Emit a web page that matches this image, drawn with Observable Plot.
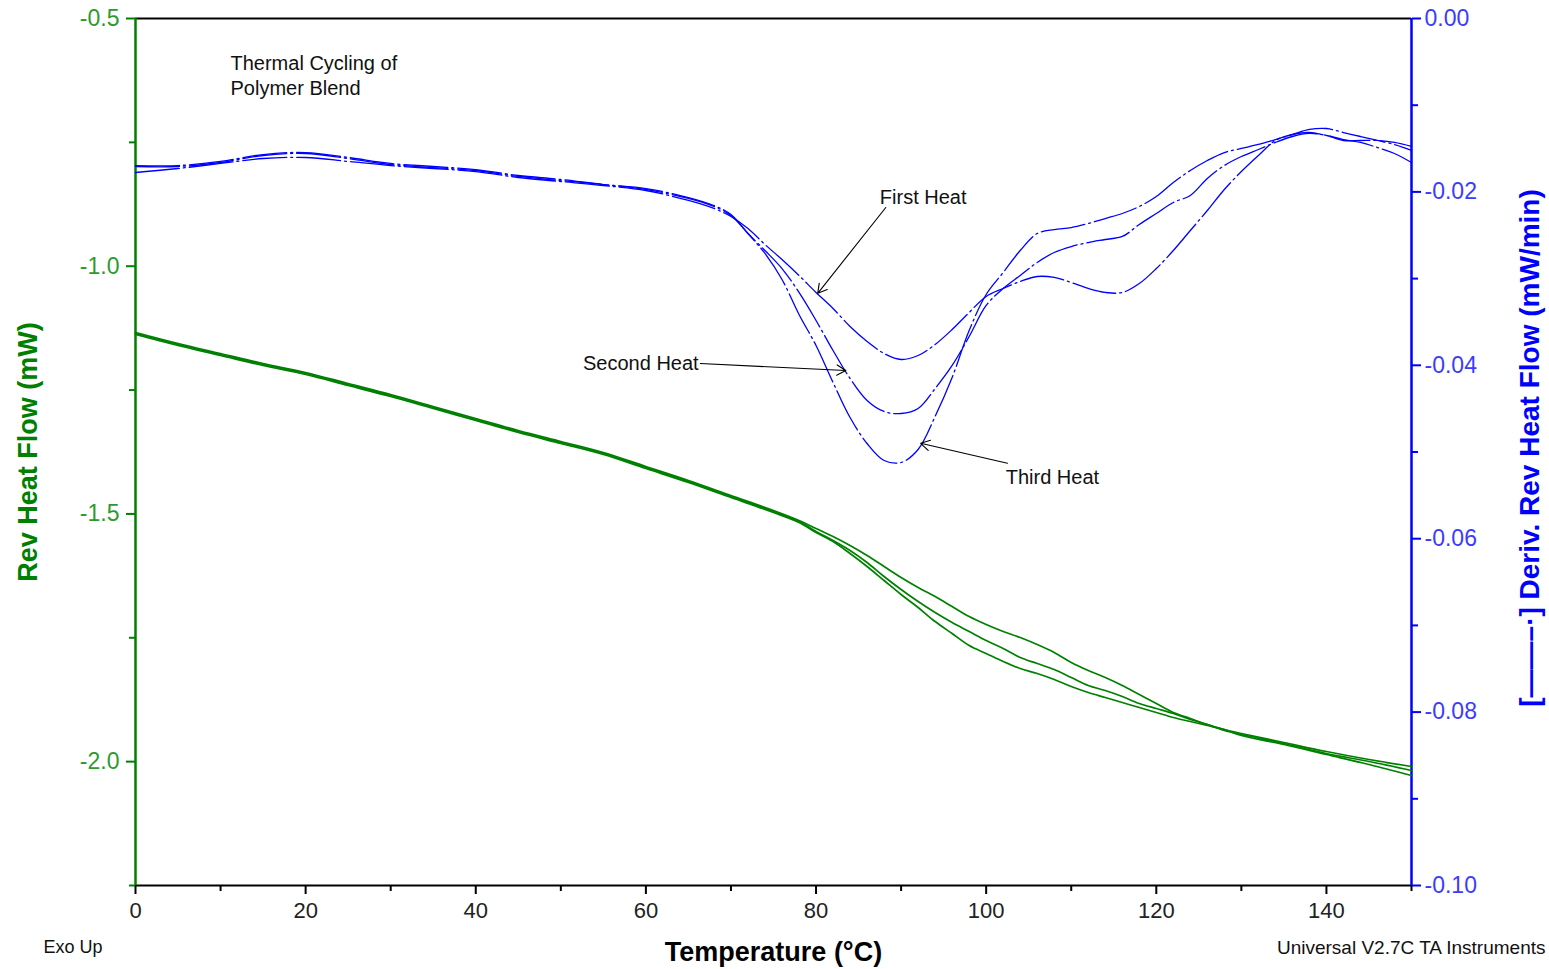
<!DOCTYPE html>
<html>
<head>
<meta charset="utf-8">
<script src="https://cdn.jsdelivr.net/npm/d3@7"></script>
<script src="https://cdn.jsdelivr.net/npm/@observablehq/plot@0.6"></script>
<style>
  html, body { margin: 0; padding: 0; background: #fff; }
  svg { display: block; }
</style>
</head>
<body>
<div id="chart"></div>
<script>
// ---------- Data ----------
// Temperature grid (°C) for derivative curves
const derivTemps = [0,5,10,15,20,25,30,35,40,45,50,55,60,65,68,70,72,74,76,78,80,82,84,86,88,90,92,94,96,98,100,102,104,106,108,110,112,114,116,118,120,122,124,126,128,130,132,134,136,138,140,142,144,146,148,150];

// Deriv. Rev Heat Flow (mW/min) – right axis
const derivFirst = [-0.01776,-0.01730,-0.01672,-0.01615,-0.01603,-0.01649,-0.01696,-0.01730,-0.01765,-0.01834,-0.01880,-0.01926,-0.01984,-0.02099,-0.02191,-0.02284,-0.02422,-0.02607,-0.02780,-0.02964,-0.03160,-0.03345,-0.03552,-0.03725,-0.03864,-0.03933,-0.03887,-0.03760,-0.03587,-0.03391,-0.03206,-0.03114,-0.03033,-0.02976,-0.02987,-0.03045,-0.03114,-0.03160,-0.03160,-0.03057,-0.02884,-0.02676,-0.02445,-0.02215,-0.01972,-0.01765,-0.01580,-0.01407,-0.01338,-0.01315,-0.01349,-0.01396,-0.01430,-0.01488,-0.01557,-0.01661];
const derivSecond = [-0.01707,-0.01707,-0.01661,-0.01580,-0.01557,-0.01615,-0.01684,-0.01719,-0.01753,-0.01822,-0.01869,-0.01915,-0.01972,-0.02076,-0.02168,-0.02272,-0.02480,-0.02676,-0.02884,-0.03160,-0.03483,-0.03829,-0.04152,-0.04406,-0.04533,-0.04556,-0.04498,-0.04268,-0.04002,-0.03668,-0.03310,-0.03114,-0.02964,-0.02814,-0.02699,-0.02630,-0.02584,-0.02549,-0.02514,-0.02376,-0.02249,-0.02122,-0.02041,-0.01845,-0.01696,-0.01592,-0.01511,-0.01430,-0.01361,-0.01326,-0.01349,-0.01407,-0.01407,-0.01407,-0.01430,-0.01476];
const derivThird = [-0.01696,-0.01696,-0.01649,-0.01569,-0.01546,-0.01603,-0.01672,-0.01707,-0.01742,-0.01811,-0.01857,-0.01915,-0.01961,-0.02065,-0.02157,-0.02261,-0.02480,-0.02710,-0.03010,-0.03414,-0.03772,-0.04198,-0.04602,-0.04902,-0.05098,-0.05121,-0.04971,-0.04590,-0.04141,-0.03599,-0.03183,-0.02930,-0.02676,-0.02480,-0.02434,-0.02411,-0.02364,-0.02307,-0.02249,-0.02168,-0.02053,-0.01892,-0.01753,-0.01638,-0.01546,-0.01499,-0.01453,-0.01396,-0.01338,-0.01280,-0.01269,-0.01315,-0.01361,-0.01407,-0.01453,-0.01522];

// Temperature grid (°C) for heat-flow curves
const flowTemps = [0,5,10,15,20,25,30,35,40,45,50,55,60,65,70,75,78,80,82,84,86,88,90,92,94,96,98,100,102,104,106,108,110,112,114,116,118,120,122,124,126,128,130,135,140,145,150];

// Rev Heat Flow (mW) – left axis
const flowFirst = [-1.1338,-1.1560,-1.1762,-1.1964,-1.2145,-1.2368,-1.2590,-1.2832,-1.3074,-1.3316,-1.3538,-1.3760,-1.4043,-1.4325,-1.4628,-1.4931,-1.5133,-1.5294,-1.5456,-1.5637,-1.5839,-1.6061,-1.6283,-1.6485,-1.6667,-1.6869,-1.7071,-1.7232,-1.7373,-1.7495,-1.7636,-1.7797,-1.7999,-1.8161,-1.8302,-1.8463,-1.8645,-1.8827,-1.9008,-1.9130,-1.9251,-1.9352,-1.9432,-1.9614,-1.9796,-1.9957,-2.0098];
const flowSecond = [-1.1358,-1.1580,-1.1782,-1.1984,-1.2165,-1.2388,-1.2610,-1.2852,-1.3094,-1.3336,-1.3558,-1.3780,-1.4063,-1.4345,-1.4648,-1.4951,-1.5153,-1.5355,-1.5537,-1.5738,-1.5981,-1.6263,-1.6526,-1.6768,-1.6990,-1.7192,-1.7373,-1.7555,-1.7717,-1.7898,-1.8019,-1.8140,-1.8302,-1.8463,-1.8564,-1.8685,-1.8827,-1.8928,-1.9029,-1.9150,-1.9251,-1.9372,-1.9452,-1.9634,-1.9836,-1.9997,-2.0179];
const flowThird = [-1.1378,-1.1600,-1.1802,-1.2004,-1.2185,-1.2408,-1.2630,-1.2872,-1.3114,-1.3356,-1.3578,-1.3800,-1.4083,-1.4365,-1.4668,-1.4971,-1.5173,-1.5375,-1.5557,-1.5799,-1.6061,-1.6344,-1.6627,-1.6889,-1.7172,-1.7414,-1.7656,-1.7817,-1.7979,-1.8120,-1.8221,-1.8342,-1.8484,-1.8605,-1.8706,-1.8807,-1.8908,-1.9008,-1.9109,-1.9190,-1.9271,-1.9352,-1.9473,-1.9654,-1.9856,-2.0058,-2.0280];

// Axis ticks
const xMajor = [0,20,40,60,80,100,120,140];
const xMinor = [10,30,50,70,90,110,130,150];
const leftMajor = [-2.0,-1.5,-1.0,-0.5];
const leftMinor = [-2.25,-1.75,-1.25,-0.75];
const rightMajor = [0.00,-0.02,-0.04,-0.06,-0.08,-0.10];
const rightMinor = [-0.01,-0.03,-0.05,-0.07,-0.09];

// Annotations (temperature °C, deriv mW/min)
const annoLabels = [
  {label: "First Heat", t: 87.5, d: -0.0206, anchor: "start"},
  {label: "Second Heat", t: 66.2, d: -0.0398, anchor: "end"},
  {label: "Third Heat", t: 102.3, d: -0.0529, anchor: "start"}
];
const annoArrows = [
  {t1: 88.2, d1: -0.0218, t2: 80.2, d2: -0.0317},
  {t1: 66.4, d1: -0.0398, t2: 83.5, d2: -0.0406},
  {t1: 102.5, d1: -0.0513, t2: 92.3, d2: -0.0490}
];

// ---------- Build ----------
const leftDomain = [-2.25, -0.5];
const rightDomain = [-0.10, 0.00];
const toLeft = d3.scaleLinear(rightDomain, leftDomain);

const derivSeries = [["First Heat", derivFirst], ["Second Heat", derivSecond], ["Third Heat", derivThird]];
const flowSeries = [["First Heat", flowFirst], ["Second Heat", flowSecond], ["Third Heat", flowThird]];

const blueData = derivSeries.flatMap(([name, vals]) => derivTemps.map((t, i) => ({series: name, t, v: toLeft(vals[i])})));
const greenData = flowSeries.flatMap(([name, vals]) => flowTemps.map((t, i) => ({series: name, t, v: vals[i]})));

const GREEN = "#008000";
const GREEN_TXT = "#2e9a2e";
const BLUE = "#0000ff";
const BLUE_TXT = "#3b3bff";
const FONT = "'Liberation Sans', Arial, Helvetica, sans-serif";

const fmtRight = d => { const v = toLeft.invert(d); return Math.abs(v) < 1e-9 ? "0.00" : v.toFixed(2); };

const chart = Plot.plot({
  width: 1549,
  height: 969,
  marginLeft: 135,
  marginRight: 138,
  marginTop: 18,
  marginBottom: 84,
  style: {fontFamily: FONT, background: "#fff", overflow: "visible"},
  x: {domain: [0, 150]},
  y: {domain: leftDomain},
  marks: [
    // frame lines
    Plot.ruleY([-0.5], {stroke: "black", strokeWidth: 2}),
    Plot.ruleY([-2.25], {stroke: "black", strokeWidth: 2}),
    Plot.ruleX([0], {stroke: GREEN, strokeWidth: 2.5}),
    Plot.ruleX([150], {stroke: BLUE, strokeWidth: 2.5}),

    // bottom axis
    Plot.axisX(xMajor, {tickSize: 9, tickPadding: 8, strokeWidth: 2, stroke: "black", fill: "#222", fontSize: 22, tickFormat: d => String(d), label: null}),
    Plot.axisX(xMinor, {tickSize: 6, strokeWidth: 2, stroke: "black", tickFormat: () => "", label: null}),

    // left axis
    Plot.axisY(leftMajor, {anchor: "left", tickSize: 9, tickPadding: 7, strokeWidth: 2, stroke: GREEN, fill: GREEN_TXT, fontSize: 23, tickFormat: d => d.toFixed(1), label: null}),
    Plot.axisY(leftMinor, {anchor: "left", tickSize: 6, strokeWidth: 2, stroke: GREEN, tickFormat: () => "", label: null}),

    // right axis
    Plot.axisY(rightMajor.map(toLeft), {anchor: "right", tickSize: 9, tickPadding: 4, strokeWidth: 2, stroke: BLUE, fill: BLUE_TXT, fontSize: 23, tickFormat: fmtRight, label: null}),
    Plot.axisY(rightMinor.map(toLeft), {anchor: "right", tickSize: 6, strokeWidth: 2, stroke: BLUE, tickFormat: () => "", label: null}),

    // curves
    Plot.line(greenData, {x: "t", y: "v", z: "series", stroke: GREEN, strokeWidth: 1.7, curve: "catmull-rom"}),
    Plot.line(blueData, {x: "t", y: "v", z: "series", stroke: BLUE, strokeWidth: 1.3, strokeDasharray: "44,4,2,4", curve: "catmull-rom"}),

    // annotations
    Plot.arrow(annoArrows, {x1: "t1", y1: d => toLeft(d.d1), x2: "t2", y2: d => toLeft(d.d2), stroke: "black", strokeWidth: 1.1, headLength: 14}),
    Plot.text(annoLabels.filter(a => a.anchor === "start"), {x: "t", y: d => toLeft(d.d), text: "label", textAnchor: "start", fontSize: 20, fill: "#111"}),
    Plot.text(annoLabels.filter(a => a.anchor === "end"), {x: "t", y: d => toLeft(d.d), text: "label", textAnchor: "end", fontSize: 20, fill: "#111"}),

    // chart texts
    Plot.text(["Thermal Cycling of\nPolymer Blend"], {frameAnchor: "top-left", dx: 95, dy: 34, textAnchor: "start", lineAnchor: "top", lineHeight: 1.25, fontSize: 20, fill: "#111"}),
    Plot.text(["Temperature (°C)"], {frameAnchor: "bottom", dy: 67, textAnchor: "middle", lineAnchor: "middle", fontSize: 27, fontWeight: "bold", fill: "#000"}),
    Plot.text(["Exo Up"], {frameAnchor: "bottom-left", dx: -92, dy: 62, textAnchor: "start", lineAnchor: "middle", fontSize: 18, fill: "#111"}),
    Plot.text(["Universal V2.7C TA Instruments"], {frameAnchor: "bottom-right", dx: 134, dy: 62, textAnchor: "end", lineAnchor: "middle", fontSize: 19, fill: "#111"}),
    Plot.text(["Rev Heat Flow (mW)"], {frameAnchor: "left", dx: -107, rotate: -90, textAnchor: "middle", lineAnchor: "middle", fontSize: 27, fontWeight: "bold", fill: GREEN}),
    Plot.text(["[——–·] Deriv. Rev Heat Flow (mW/min)"], {frameAnchor: "right", dx: 119, dy: -4, rotate: -90, textAnchor: "middle", lineAnchor: "middle", fontSize: 28, fontWeight: "bold", fill: BLUE})
  ]
});

document.getElementById("chart").appendChild(chart);
</script>
</body>
</html>
